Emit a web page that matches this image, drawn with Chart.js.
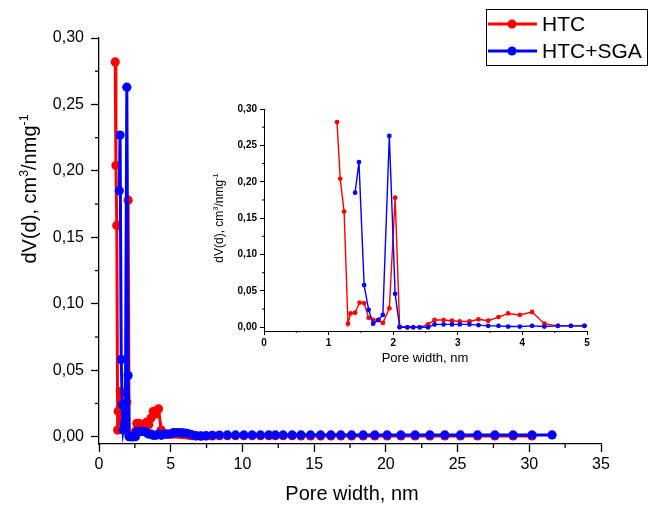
<!DOCTYPE html>
<html><head><meta charset="utf-8">
<script src="https://cdn.jsdelivr.net/npm/chart.js@4/dist/chart.umd.min.js"></script>
<style>
html,body{margin:0;padding:0;background:#fff;}
#wrap{position:relative;width:650px;height:506px;background:#fff;}
canvas{position:absolute;left:0;top:0;}
</style></head><body>
<div id="wrap"><canvas id="main" width="650" height="506"></canvas><canvas id="inset" width="650" height="506"></canvas></div>
<script>
// ---- data ----
const seriesNames = ['HTC', 'HTC+SGA'];
const htcX = [1.13,1.18,1.24,1.30,1.34,1.41,1.48,1.55,1.62,1.69,1.77,1.84,1.94,2.03,2.10,2.22,2.31,2.41,2.54,2.64,2.78,2.91,3.03,3.18,3.32,3.47,3.63,3.78,3.96,4.15,4.34,4.55,4.75,4.96,
  5.18,5.41,5.65,5.90,6.16,6.45,6.76,7.10,7.47,7.90,8.40,8.95,9.52,10.10,10.68,11.26,11.84,12.30,12.84,13.47,14.08,14.75,15.45,16.17,16.86,17.61,18.42,19.23,20.09,21.05,22.04,23.07,24.11,25.20,26.39,27.60,28.87,30.19];
const htcY = [0.282,0.204,0.159,0.005,0.019,0.020,0.034,0.033,0.013,0.010,0.010,0.006,0.026,0.178,0.001,0.000,0.000,0.000,0.004,0.010,0.010,0.009,0.008,0.008,0.011,0.009,0.014,0.019,0.017,0.021,0.005,0.002,0.002,0.002,
  0.002,0.002,0.0018,0.0015,0.0012,0.0008,0.0005,0.0004,0.0005,0.0006,0.0007,0.0007,0.0007,0.0007,0.0007,0.0007,0.0007,0.0007,0.0007,0.0007,0.0006,0.0006,0.0006,0.0006,0.0006,0.0006,0.0006,0.0006,0.0006,0.0006,0.0006,0.0006,0.0006,0.0006,0.0006,0.0006,0.0006,0.0006];
const sgaX = [1.41,1.47,1.55,1.62,1.69,1.77,1.84,1.94,2.03,2.10,2.22,2.31,2.41,2.54,2.64,2.78,2.91,3.03,3.18,3.32,3.47,3.63,3.78,3.96,4.15,4.34,4.55,4.75,4.96,
  5.18,5.41,5.65,5.90,6.16,6.45,6.76,7.10,7.47,7.90,8.40,8.95,9.52,10.10,10.68,11.26,11.84,12.30,12.84,13.47,14.08,14.75,15.45,16.17,16.86,17.61,18.42,19.23,20.09,21.05,22.04,23.07,24.11,25.20,26.39,27.60,28.87,30.19,31.59];
const sgaY = [0.185,0.227,0.058,0.024,0.005,0.010,0.017,0.263,0.046,0.000,0.000,0.000,0.000,0.000,0.004,0.004,0.004,0.004,0.004,0.003,0.002,0.002,0.001,0.001,0.002,0.001,0.002,0.002,0.002,
  0.003,0.003,0.003,0.0028,0.0025,0.0015,0.0008,0.0006,0.0008,0.0010,0.0012,0.0013,0.0013,0.0013,0.0013,0.0013,0.0013,0.0013,0.0013,0.0013,0.0013,0.0013,0.0013,0.0013,0.0013,0.0013,0.0013,0.0013,0.0013,0.0013,0.0013,0.0013,0.0013,0.0013,0.0013,0.0013,0.0013,0.0013,0.0013];
const mainXTicks = [0,5,10,15,20,25,30,35];
const mainXMinor = [2.5,7.5,12.5,17.5,22.5,27.5,32.5];
const mainYTicks = [0,0.05,0.10,0.15,0.20,0.25,0.30];
const mainYMinor = [0.025,0.075,0.125,0.175,0.225,0.275];
const insetXTicks = [0,1,2,3,4,5];
const insetXMinor = [0.5,1.5,2.5,3.5,4.5];
const insetYTicks = [0,0.05,0.10,0.15,0.20,0.25,0.30];
const insetYMinor = [0.025,0.075,0.125,0.175,0.225,0.275];
const colors = ['#ff0000', '#0000ff'];
const xTitle = 'Pore width, nm';
const yTitleParts = [['dV(d), cm',false],['3',true],['/nmg',false],['-1',true]];

const FONT = "'Liberation Sans', Arial, sans-serif";
const pts = (xs, ys) => xs.map((x, i) => ({x, y: ys[i]}));
const fmt = v => Number(v).toFixed(2).replace('.', ',');

function richText(ctx, parts, size, cx, cy, rotate) {
  ctx.save();
  ctx.translate(cx, cy);
  if (rotate) ctx.rotate(-Math.PI / 2);
  ctx.fillStyle = '#000';
  ctx.textBaseline = 'alphabetic';
  let total = 0;
  parts.forEach(([t, sup]) => { ctx.font = (sup ? size * 0.62 : size) + 'px ' + FONT; total += ctx.measureText(t).width; });
  let x = -total / 2;
  const base = size * 0.36;
  parts.forEach(([t, sup]) => {
    ctx.font = (sup ? size * 0.62 : size) + 'px ' + FONT;
    ctx.fillText(t, x, sup ? base - size * 0.42 : base);
    x += ctx.measureText(t).width;
  });
  ctx.restore();
}

const decor = {
  id: 'decor',
  afterDraw(chart, args, o) {
    const ctx = chart.ctx, xs = chart.scales.x, ys = chart.scales.y, ca = chart.chartArea;
    ctx.save();
    ctx.strokeStyle = '#000';
    ctx.lineWidth = o.tickW;
    o.xMinor.forEach(v => {
      const p = xs.getPixelForValue(v);
      ctx.beginPath(); ctx.moveTo(p, ca.bottom); ctx.lineTo(p, ca.bottom + o.minorLen); ctx.stroke();
    });
    o.yMinor.forEach(v => {
      const p = ys.getPixelForValue(v);
      ctx.beginPath(); ctx.moveTo(ca.left, p); ctx.lineTo(ca.left - o.minorLen, p); ctx.stroke();
    });
    ctx.restore();
    // titles
    ctx.save();
    ctx.fillStyle = '#000';
    ctx.font = o.titleSize + 'px ' + FONT;
    ctx.textAlign = 'center'; ctx.textBaseline = 'middle';
    ctx.fillText(xTitle, o.xTitlePos[0], o.xTitlePos[1]);
    ctx.restore();
    richText(ctx, yTitleParts, o.yTitleSize, o.yTitlePos[0], o.yTitlePos[1], true);
    if (o.legend) {
      ctx.save();
      ctx.strokeStyle = '#000'; ctx.lineWidth = 1;
      ctx.strokeRect(486.5, 9.5, 161, 56);
      seriesNames.forEach((n, i) => {
        const y = 24 + i * 27;
        ctx.strokeStyle = colors[i]; ctx.fillStyle = colors[i]; ctx.lineWidth = 3;
        ctx.beginPath(); ctx.moveTo(488, y); ctx.lineTo(537, y); ctx.stroke();
        ctx.beginPath(); ctx.arc(512, y, 4.5, 0, Math.PI * 2); ctx.fill();
        ctx.fillStyle = '#000'; ctx.font = '21px ' + FONT; ctx.textBaseline = 'middle'; ctx.textAlign = 'left';
        ctx.fillText(n, 542, y + 1);
      });
      ctx.restore();
    }
  }
};

const bg = { id: 'bg', beforeDraw(c) { const ctx = c.ctx; ctx.save(); ctx.fillStyle = '#fff'; ctx.fillRect(0, 0, c.width, c.height); ctx.restore(); } };

function makeScales(cfg) {
  return {
    x: {
      type: 'linear', min: cfg.xmin, max: cfg.xmax,
      afterFit: s => { s.height = cfg.xh; },
      afterBuildTicks: s => { s.ticks = cfg.xt.map(v => ({value: v})); },
      ticks: { autoSkip: false, maxRotation: 0, color: '#000', padding: cfg.xpad, font: { family: FONT, size: cfg.tickSize, weight: cfg.tickWeight }, callback: v => String(v) },
      grid: { drawOnChartArea: false, drawTicks: true, tickLength: cfg.tl, tickColor: '#000', tickWidth: cfg.tw },
      border: { color: '#000', width: cfg.bw }
    },
    y: {
      type: 'linear', min: cfg.ymin, max: cfg.ymax,
      afterFit: s => { s.width = cfg.yw; },
      afterBuildTicks: s => { s.ticks = cfg.yt.map(v => ({value: v})); },
      ticks: { autoSkip: false, color: '#000', padding: cfg.ypad, font: { family: FONT, size: cfg.tickSize, weight: cfg.tickWeight }, callback: v => fmt(v) },
      grid: { drawOnChartArea: false, drawTicks: true, tickLength: cfg.tl, tickColor: '#000', tickWidth: cfg.tw },
      border: { color: '#000', width: cfg.bw }
    }
  };
}

function datasets(r, lw) {
  return [
    { label: seriesNames[0], data: pts(htcX, htcY), borderColor: colors[0], backgroundColor: colors[0], pointRadius: r, pointBorderWidth: 0, borderWidth: lw, order: 1, tension: 0 },
    { label: seriesNames[1], data: pts(sgaX, sgaY), borderColor: colors[1], backgroundColor: colors[1], pointRadius: r, pointBorderWidth: 0, borderWidth: lw, order: 0, tension: 0 }
  ];
}

new Chart(document.getElementById('main'), {
  type: 'line',
  data: { datasets: datasets(4.6, 3) },
  options: {
    responsive: false, animation: false, devicePixelRatio: 1,
    layout: { padding: { left: 0, top: 38, right: 49, bottom: 0 } },
    plugins: { legend: { display: false }, tooltip: { enabled: false },
      decor: { xMinor: mainXMinor, yMinor: mainYMinor, minorLen: 4, tickW: 1.3, titleSize: 20, xTitlePos: [352, 494], yTitleSize: 20, yTitlePos: [29, 189], legend: true } },
    scales: makeScales({ xmin: 0, xmax: 35, ymin: -0.0055, ymax: 0.30, xt: mainXTicks, yt: mainYTicks, xh: 62, yw: 99, tickSize: 16, tickWeight: 'normal', tl: 8, tw: 1.3, bw: 1.3, xpad: 3, ypad: 7 })
  },
  plugins: [bg, decor]
});

new Chart(document.getElementById('inset'), {
  type: 'line',
  data: { datasets: datasets(2.4, 1.4) },
  options: {
    responsive: false, animation: false, devicePixelRatio: 1,
    layout: { padding: { left: 0, top: 109, right: 63, bottom: 0 } },
    plugins: { legend: { display: false }, tooltip: { enabled: false },
      decor: { xMinor: insetXMinor, yMinor: insetYMinor, minorLen: 2, tickW: 1, titleSize: 13, xTitlePos: [425, 358], yTitleSize: 12, yTitlePos: [219, 218], legend: false } },
    scales: makeScales({ xmin: 0, xmax: 5, ymin: -0.0051, ymax: 0.30, xt: insetXTicks, yt: insetYTicks, xh: 175, yw: 264, tickSize: 10, tickWeight: 'bold', tl: 4, tw: 1, bw: 1, xpad: 2, ypad: 3 })
  },
  plugins: [decor]
});
</script>
</body></html>
